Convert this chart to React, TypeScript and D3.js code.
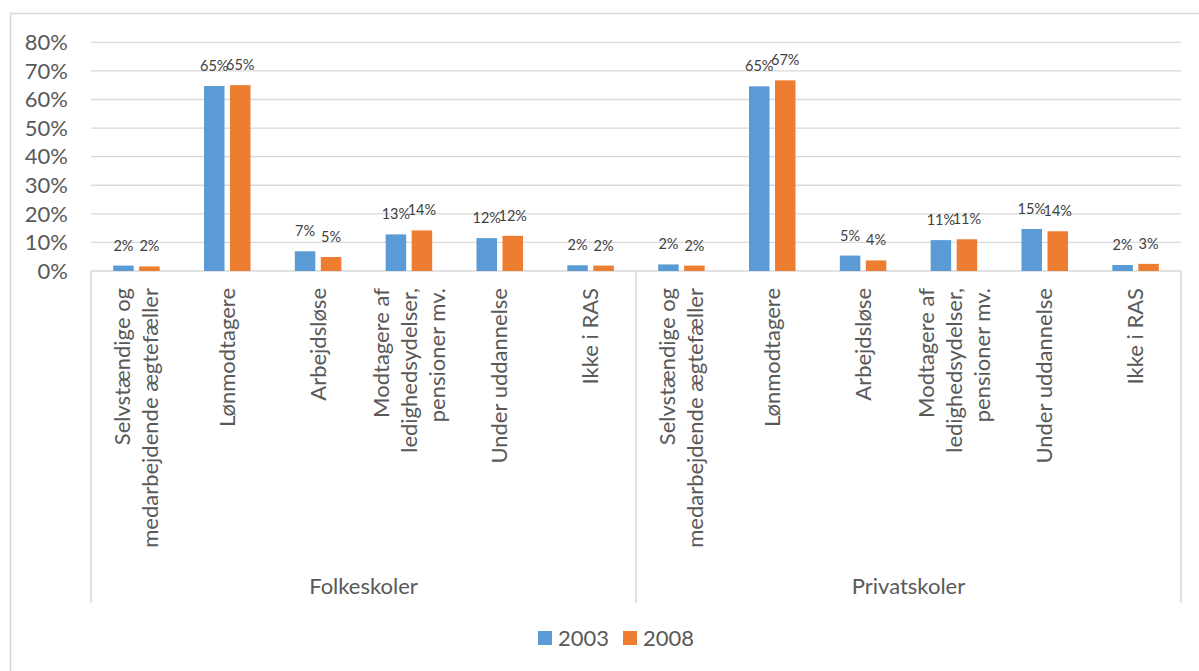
import * as d3 from "d3";
import { useEffect, useRef } from "react";

// groups along the bottom
const groups = ["Folkeskoler", "Privatskoler"];

// categories repeated in each group ("\n" splits lines)
const categories = [
  "Selvstændige og\nmedarbejdende ægtefæller",
  "Lønmodtagere",
  "Arbejdsløse",
  "Modtagere af\nledighedsydelser,\npensioner mv.",
  "Under uddannelse",
  "Ikke i RAS",
];

const seriesNames = ["2003", "2008"];

// percent, Folkeskoler then Privatskoler
const values2003 = [1.9, 64.7, 6.9, 12.8, 11.5, 2.0, 2.3, 64.6, 5.4, 10.8, 14.7, 2.1];
const values2008 = [1.6, 65.0, 4.9, 14.2, 12.3, 1.9, 1.9, 66.7, 3.7, 11.1, 13.9, 2.5];

const yTicks = [0, 10, 20, 30, 40, 50, 60, 70, 80];

const colors = ["#5B9BD5", "#ED7D31"];

const W = 1199;
const H = 671;

const App = () => {
  const svgRef = useRef<SVGSVGElement | null>(null);

  useEffect(() => {
    if (!svgRef.current) return;
    const svg = d3.select(svgRef.current);
    svg.selectAll("*").remove();

    const font = "Lato, 'Open Sans', sans-serif";
    const grid = "#d9d9d9";
    const left = 91;
    const right = 1181;
    const top = 42.3;
    const bottom = 271;
    const axisBottom = 603;

    // chart frame (right/bottom edges are off the picture)
    svg
      .append("rect")
      .attr("x", 10.5)
      .attr("y", 13.5)
      .attr("width", 1240)
      .attr("height", 700)
      .attr("fill", "#fff")
      .attr("stroke", grid)
      .attr("stroke-width", 1.5);

    const keys = groups.flatMap((g) => categories.map((c) => `${g}|${c}`));

    const x = d3.scaleBand<string>().domain(keys).range([left, right]).padding(0);
    const y = d3.scaleLinear().domain([0, 80]).range([bottom, top]);

    // gridlines
    svg
      .append("g")
      .selectAll("line")
      .data(yTicks.filter((t) => t > 0))
      .join("line")
      .attr("x1", left)
      .attr("x2", right)
      .attr("y1", (d) => y(d))
      .attr("y2", (d) => y(d))
      .attr("stroke", grid)
      .attr("stroke-width", 1.3);

    // y tick labels
    svg
      .append("g")
      .selectAll("text")
      .data(yTicks)
      .join("text")
      .attr("x", 68)
      .attr("y", (d) => y(d))
      .attr("dy", "0.35em")
      .attr("text-anchor", "end")
      .attr("font-family", font)
      .attr("font-size", 22)
      .attr("fill", "#595959")
      .text((d) => `${d}%`);

    // category axis box
    const axisG = svg.append("g").attr("stroke", grid).attr("stroke-width", 1.5);
    axisG.append("line").attr("x1", left).attr("x2", right).attr("y1", bottom).attr("y2", bottom);
    const groupEdges = [left, x(keys[categories.length])!, right];
    axisG
      .selectAll("line.tick")
      .data(groupEdges)
      .join("line")
      .attr("class", "tick")
      .attr("x1", (d) => d)
      .attr("x2", (d) => d)
      .attr("y1", bottom)
      .attr("y2", axisBottom);

    // bars
    const barW = 20.5;
    const innerGap = 5.5;
    const series = [values2003, values2008];
    series.forEach((vals, si) => {
      const off = si === 0 ? -(barW + innerGap) / 2 : (barW + innerGap) / 2;
      const g = svg.append("g");
      g.selectAll("rect")
        .data(vals)
        .join("rect")
        .attr("x", (_, i) => x(keys[i])! + x.bandwidth() / 2 + off - barW / 2)
        .attr("width", barW)
        .attr("y", (d) => y(d))
        .attr("height", (d) => y(0) - y(d))
        .attr("fill", colors[si]);
      g.selectAll("text")
        .data(vals)
        .join("text")
        .attr("x", (_, i) => x(keys[i])! + x.bandwidth() / 2 + off)
        .attr("y", (d) => y(d) - 15)
        .attr("text-anchor", "middle")
        .attr("font-family", font)
        .attr("font-size", 14.5)
        .attr("fill", "#404040")
        .text((d) => `${Math.round(d)}%`);
    });

    // rotated category labels
    const fs = 22;
    const lh = 28;
    keys.forEach((k) => {
      const lines = k.split("|")[1].split("\n");
      const cx = x(k)! + x.bandwidth() / 2;
      const t = svg
        .append("text")
        .attr("transform", `translate(${cx},288) rotate(-90)`)
        .attr("text-anchor", "end")
        .attr("font-family", font)
        .attr("font-size", fs)
        .attr("fill", "#595959");
      lines.forEach((ln, i) => {
        t.append("tspan")
          .attr("x", 0)
          .attr("y", (i - (lines.length - 1) / 2) * lh + fs * 0.35)
          .text(ln);
      });
    });

    // group labels
    svg
      .append("g")
      .selectAll("text")
      .data(groups)
      .join("text")
      .attr("x", (_, gi) => (groupEdges[gi] + groupEdges[gi + 1]) / 2)
      .attr("y", 594)
      .attr("text-anchor", "middle")
      .attr("font-family", font)
      .attr("font-size", fs)
      .attr("fill", "#595959")
      .text((d) => d);

    // legend
    const legendX = [538, 623];
    const lg = svg.append("g");
    seriesNames.forEach((name, i) => {
      lg.append("rect")
        .attr("x", legendX[i])
        .attr("y", 631)
        .attr("width", 14)
        .attr("height", 14)
        .attr("fill", colors[i]);
      lg.append("text")
        .attr("x", legendX[i] + 20)
        .attr("y", 646)
        .attr("font-family", font)
        .attr("font-size", fs)
        .attr("fill", "#595959")
        .text(name);
    });
  }, []);

  return (
    <svg
      ref={svgRef}
      width={W}
      height={H}
      style={{ position: "absolute", left: 0, top: 0, display: "block" }}
    ></svg>
  );
};

export default App;
